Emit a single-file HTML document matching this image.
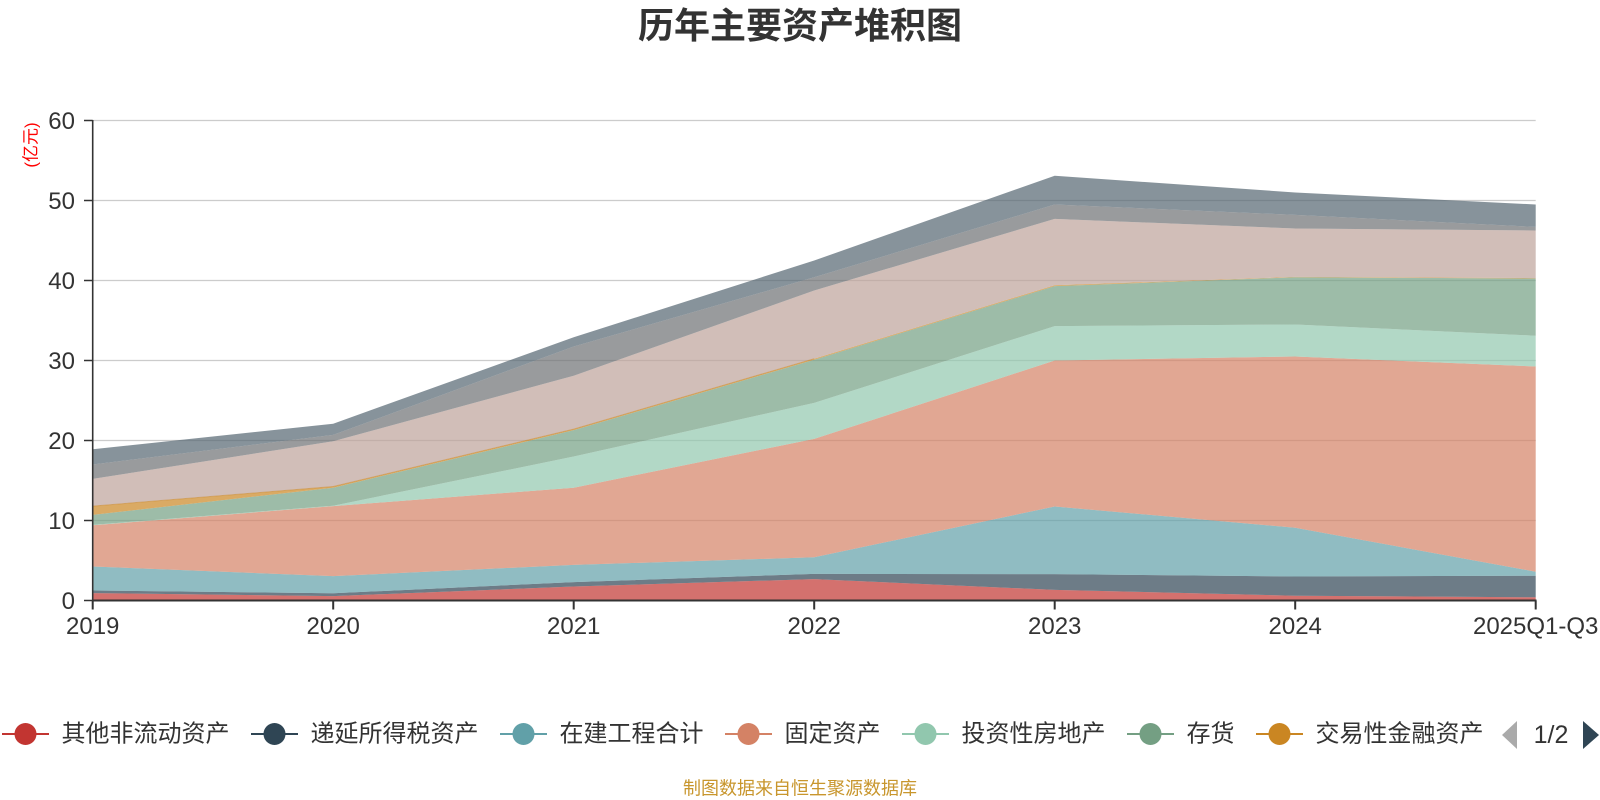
<!DOCTYPE html>
<html>
<head>
<meta charset="utf-8">
<style>
html,body{margin:0;padding:0;background:#fff;}
body{width:1600px;height:800px;overflow:hidden;}
svg{display:block;}
.cjk{font-family:"Liberation Sans","Noto Sans CJK SC",sans-serif;}
.num{font-family:"Liberation Sans","Noto Sans CJK SC",sans-serif;}
</style>
</head>
<body>
<svg width="1600" height="800" viewBox="0 0 1600 800" xmlns="http://www.w3.org/2000/svg">
  <rect x="0" y="0" width="1600" height="800" fill="#fff"/>

  <!-- title -->
  <text x="800" y="25.5" text-anchor="middle" dominant-baseline="central" class="cjk" font-size="36" font-weight="bold" fill="#333">历年主要资产堆积图</text>

  <!-- unit label -->
  <text x="0" y="0" transform="translate(31,145) rotate(-90)" text-anchor="middle" dominant-baseline="central" class="cjk" font-size="17" fill="#ff0000">(亿元)</text>

  <!-- grid lines -->
  <g stroke="#cccccc" stroke-width="1.3">
    <line x1="92.7" y1="520.5" x2="1535.7" y2="520.5"/>
    <line x1="92.7" y1="440.5" x2="1535.7" y2="440.5"/>
    <line x1="92.7" y1="360.5" x2="1535.7" y2="360.5"/>
    <line x1="92.7" y1="280.5" x2="1535.7" y2="280.5"/>
    <line x1="92.7" y1="200.5" x2="1535.7" y2="200.5"/>
    <line x1="92.7" y1="120.5" x2="1535.7" y2="120.5"/>
  </g>

  <!-- stacked areas -->
  <g fill-opacity="0.7" stroke="none">
    <polygon fill="#c23531" points="92.7,593.1 333.2,596.1 573.7,586.5 814.2,579.1 1054.7,589.9 1295.2,595.7 1535.7,597.3 1535.7,600.5 92.7,600.5"/>
    <polygon fill="#2f4554" points="92.7,590.5 333.2,593.3 573.7,582.1 814.2,573.9 1054.7,574.1 1295.2,576.5 1535.7,575.7 1535.7,597.3 1295.2,595.7 1054.7,589.9 814.2,579.1 573.7,586.5 333.2,596.1 92.7,593.1"/>
    <polygon fill="#61a0a8" points="92.7,566.5 333.2,576.1 573.7,564.9 814.2,557.3 1054.7,506.5 1295.2,527.7 1535.7,571.7 1535.7,575.7 1295.2,576.5 1054.7,574.1 814.2,573.9 573.7,582.1 333.2,593.3 92.7,590.5"/>
    <polygon fill="#d48265" points="92.7,525.3 333.2,506.1 573.7,487.7 814.2,438.9 1054.7,360.5 1295.2,356.5 1535.7,366.5 1535.7,571.7 1295.2,527.7 1054.7,506.5 814.2,557.3 573.7,564.9 333.2,576.1 92.7,566.5"/>
    <polygon fill="#91c7ae" points="92.7,524.9 333.2,505.7 573.7,456.5 814.2,402.9 1054.7,326.1 1295.2,324.5 1535.7,335.7 1535.7,366.5 1295.2,356.5 1054.7,360.5 814.2,438.9 573.7,487.7 333.2,506.1 92.7,525.3"/>
    <polygon fill="#749f83" points="92.7,514.9 333.2,487.7 573.7,430.1 814.2,359.7 1054.7,286.1 1295.2,277.3 1535.7,278.5 1535.7,335.7 1295.2,324.5 1054.7,326.1 814.2,402.9 573.7,456.5 333.2,505.7 92.7,524.9"/>
    <polygon fill="#ca8622" points="92.7,506.1 333.2,486.5 573.7,429.1 814.2,358.7 1054.7,285.3 1295.2,276.9 1535.7,278.1 1535.7,278.5 1295.2,277.3 1054.7,286.1 814.2,359.7 573.7,430.1 333.2,487.7 92.7,514.9"/>
    <polygon fill="#bda29a" points="92.7,478.9 333.2,441.3 573.7,375.7 814.2,290.5 1054.7,218.9 1295.2,228.5 1535.7,230.5 1535.7,278.1 1295.2,276.9 1054.7,285.3 814.2,358.7 573.7,429.1 333.2,486.5 92.7,506.1"/>
    <polygon fill="#6e7074" points="92.7,464.5 333.2,434.9 573.7,346.5 814.2,277.3 1054.7,204.5 1295.2,214.9 1535.7,226.9 1535.7,230.5 1295.2,228.5 1054.7,218.9 814.2,290.5 573.7,375.7 333.2,441.3 92.7,478.9"/>
    <polygon fill="#546570" points="92.7,449.3 333.2,423.7 573.7,337.3 814.2,260.5 1054.7,175.7 1295.2,192.5 1535.7,204.5 1535.7,226.9 1295.2,214.9 1054.7,204.5 814.2,277.3 573.7,346.5 333.2,434.9 92.7,464.5"/>
  </g>
  <!-- thin trading-asset line -->
  <polyline fill="none" stroke="#ca8622" stroke-opacity="0.45" stroke-width="1" points="92.7,506.1 333.2,486.5 573.7,429.1 814.2,358.7"/>

  <!-- axes -->
  <g stroke="#333" fill="none">
    <line x1="92.7" y1="120" x2="92.7" y2="601" stroke-width="1.6"/>
    <line x1="92" y1="600.5" x2="1536.5" y2="600.5" stroke-width="2"/>
    <g stroke-width="1.5">
      <line x1="84" y1="600.5" x2="92.7" y2="600.5"/>
      <line x1="84" y1="520.5" x2="92.7" y2="520.5"/>
      <line x1="84" y1="440.5" x2="92.7" y2="440.5"/>
      <line x1="84" y1="360.5" x2="92.7" y2="360.5"/>
      <line x1="84" y1="280.5" x2="92.7" y2="280.5"/>
      <line x1="84" y1="200.5" x2="92.7" y2="200.5"/>
      <line x1="84" y1="120.5" x2="92.7" y2="120.5"/>
    </g>
    <g stroke-width="2">
      <line x1="92.7" y1="600.5" x2="92.7" y2="609.5"/>
      <line x1="333.2" y1="600.5" x2="333.2" y2="609.5"/>
      <line x1="573.7" y1="600.5" x2="573.7" y2="609.5"/>
      <line x1="814.2" y1="600.5" x2="814.2" y2="609.5"/>
      <line x1="1054.7" y1="600.5" x2="1054.7" y2="609.5"/>
      <line x1="1295.2" y1="600.5" x2="1295.2" y2="609.5"/>
      <line x1="1535.7" y1="600.5" x2="1535.7" y2="609.5"/>
    </g>
  </g>

  <!-- y labels -->
  <g class="num" font-size="24" fill="#333" text-anchor="end">
    <text x="75" y="609.1">0</text>
    <text x="75" y="529.1">10</text>
    <text x="75" y="449.1">20</text>
    <text x="75" y="369.1">30</text>
    <text x="75" y="289.1">40</text>
    <text x="75" y="209.1">50</text>
    <text x="75" y="129.1">60</text>
  </g>

  <!-- x labels -->
  <g class="num" font-size="24" fill="#333" text-anchor="middle">
    <text x="92.7" y="634">2019</text>
    <text x="333.2" y="634">2020</text>
    <text x="573.7" y="634">2021</text>
    <text x="814.2" y="634">2022</text>
    <text x="1054.7" y="634">2023</text>
    <text x="1295.2" y="634">2024</text>
    <text x="1535.7" y="634">2025Q1-Q3</text>
  </g>

  <!-- legend -->
  <g class="cjk" font-size="24" fill="#333">
    <line x1="2" y1="734" x2="49" y2="734" stroke="#c23531" stroke-width="2"/>
    <circle cx="25.5" cy="734" r="11" fill="#c23531"/>
    <text x="61.5" y="734" dominant-baseline="central">其他非流动资产</text>

    <line x1="251" y1="734" x2="298" y2="734" stroke="#2f4554" stroke-width="2"/>
    <circle cx="274.5" cy="734" r="11" fill="#2f4554"/>
    <text x="310.5" y="734" dominant-baseline="central">递延所得税资产</text>

    <line x1="500" y1="734" x2="547" y2="734" stroke="#61a0a8" stroke-width="2"/>
    <circle cx="523.5" cy="734" r="11" fill="#61a0a8"/>
    <text x="559.5" y="734" dominant-baseline="central">在建工程合计</text>

    <line x1="725" y1="734" x2="772" y2="734" stroke="#d48265" stroke-width="2"/>
    <circle cx="748.5" cy="734" r="11" fill="#d48265"/>
    <text x="784.5" y="734" dominant-baseline="central">固定资产</text>

    <line x1="902" y1="734" x2="949" y2="734" stroke="#91c7ae" stroke-width="2"/>
    <circle cx="925.5" cy="734" r="11" fill="#91c7ae"/>
    <text x="961.5" y="734" dominant-baseline="central">投资性房地产</text>

    <line x1="1127" y1="734" x2="1174" y2="734" stroke="#749f83" stroke-width="2"/>
    <circle cx="1150.5" cy="734" r="11" fill="#749f83"/>
    <text x="1186.5" y="734" dominant-baseline="central">存货</text>

    <line x1="1256" y1="734" x2="1303" y2="734" stroke="#ca8622" stroke-width="2"/>
    <circle cx="1279.5" cy="734" r="11" fill="#ca8622"/>
    <text x="1315.5" y="734" dominant-baseline="central">交易性金融资产</text>

    <polygon points="1502,735 1517,721 1517,749" fill="#aaaaaa"/>
    <text x="1551" y="743" text-anchor="middle" class="num" font-size="25" fill="#333">1/2</text>
    <polygon points="1599,735 1583,721 1583,749" fill="#2f4554"/>
  </g>

  <!-- footer -->
  <text x="800" y="788.5" text-anchor="middle" dominant-baseline="central" class="cjk" font-size="18" fill="#c8962d">制图数据来自恒生聚源数据库</text>
</svg>
</body>
</html>
